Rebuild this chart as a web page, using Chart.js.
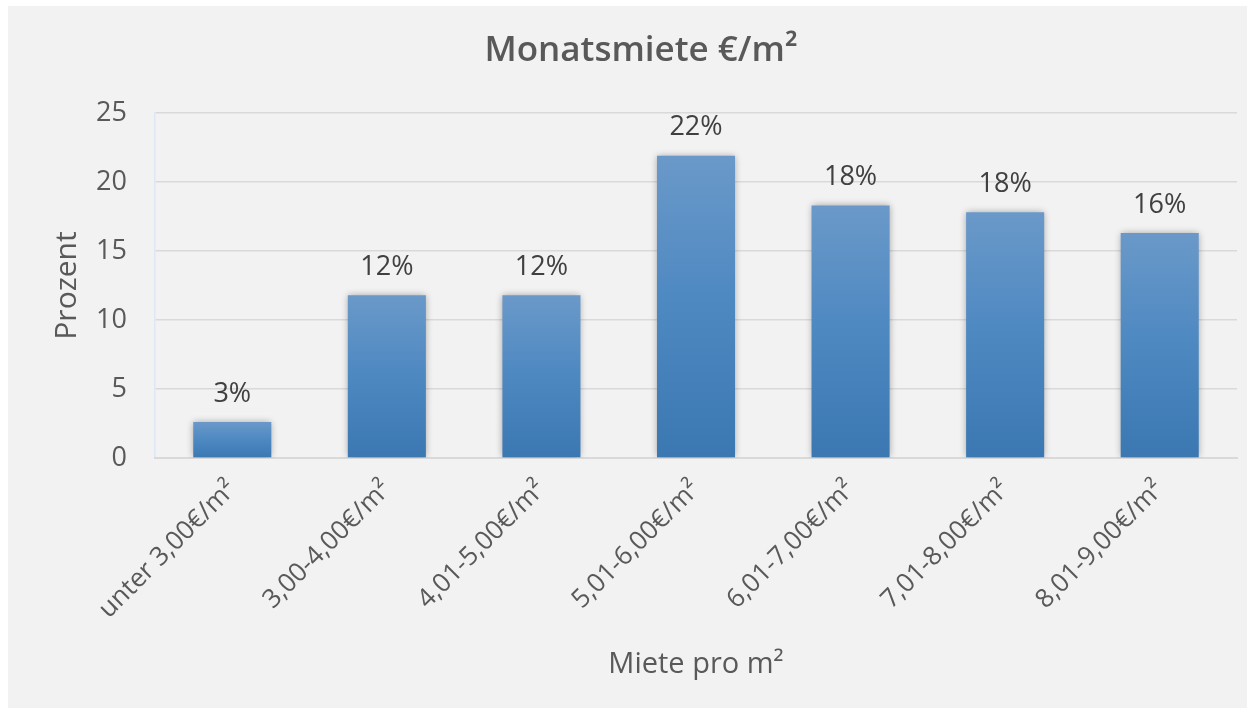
<!DOCTYPE html>
<html><head><meta charset="utf-8">
<script src="https://cdn.jsdelivr.net/npm/chart.js@4"></script>
<style>
html,body{margin:0;padding:0;background:#fff;width:1251px;height:708px;overflow:hidden}
#wrap{position:absolute;left:8px;top:6px;width:1239px;height:702px;background:#f2f2f2}
</style></head><body>
<div id="wrap"><canvas id="c" width="1239" height="702"></canvas></div>
<script>
const categories = ["unter 3,00€/m²","3,00-4,00€/m²","4,01-5,00€/m²","5,01-6,00€/m²","6,01-7,00€/m²","7,01-8,00€/m²","8,01-9,00€/m²"];
const values = [2.6, 11.8, 11.8, 21.9, 18.3, 17.8, 16.3];
const valueLabels = ["3%","12%","12%","22%","18%","18%","16%"];
const yTicks = [0,5,10,15,20,25];

const shadowPlugin = {
  id:'shadow',
  beforeDatasetsDraw(chart){ const c=chart.ctx; c.save(); c.shadowColor='rgba(0,0,0,0.35)'; c.shadowBlur=7; },
  afterDatasetsDraw(chart){ chart.ctx.restore(); }
};
const labelPlugin = {
  id:'vlabels',
  afterDatasetsDraw(chart){
    const c=chart.ctx; const meta=chart.getDatasetMeta(0);
    c.save(); c.font='27px "Open Sans"'; c.fillStyle='#404040'; c.textAlign='center'; c.textBaseline='middle';
    meta.data.forEach((bar,i)=>{ c.fillText(valueLabels[i], bar.x, bar.y-28); });
    c.restore();
  }
};

new Chart(document.getElementById('c'),{
  type:'bar',
  data:{labels:categories,datasets:[{data:values,
    backgroundColor(ctx){
      const chart=ctx.chart; const ys=chart.scales.y;
      if(!chart.chartArea||!ys||ctx.dataIndex===undefined) return '#4f86c0';
      const top=ys.getPixelForValue(values[ctx.dataIndex]); const bot=ys.getPixelForValue(0);
      const g=chart.ctx.createLinearGradient(0,top,0,bot);
      g.addColorStop(0,'#6a99c9'); g.addColorStop(0.5,'#4d88c1'); g.addColorStop(1,'#3b77b1');
      return g;
    },
    borderWidth:0, barPercentage:0.505, categoryPercentage:1}]},
  options:{
    responsive:false, animation:false,
    layout:{padding:{left:37,right:10,top:0,bottom:22}},
    plugins:{
      legend:{display:false}, tooltip:{enabled:false},
      title:{display:true,text:'Monatsmiete €/m²',color:'#595959',font:{family:'"Open Sans"',size:35,weight:'600'},padding:{top:24,bottom:41}}
    },
    scales:{
      y:{min:0,max:25,
        afterBuildTicks(s){ s.ticks = yTicks.map(v=>({value:v})); },
        afterFit(s){ s.width=110; },
        ticks:{color:'#595959',font:{family:'"Open Sans"',size:27},padding:28},
        grid:{color:'#d9d9d9',lineWidth:1.5,drawTicks:false},
        border:{display:true,color:'#dce8f4',width:1.5},
        title:{display:true,text:'Prozent',color:'#595959',font:{family:'"Open Sans"',size:30}}
      },
      x:{
        afterFit(s){ s.height=228; },
        ticks:{color:'#595959',font:{family:'"Open Sans"',size:26},minRotation:45,maxRotation:45,padding:16},
        grid:{display:false,drawTicks:false},
        border:{display:true,color:'#d9d9d9',width:2},
        title:{display:true,text:'Miete pro m²',color:'#595959',font:{family:'"Open Sans"',size:29}}
      }
    }
  },
  plugins:[shadowPlugin,labelPlugin]
});
</script></body></html>
